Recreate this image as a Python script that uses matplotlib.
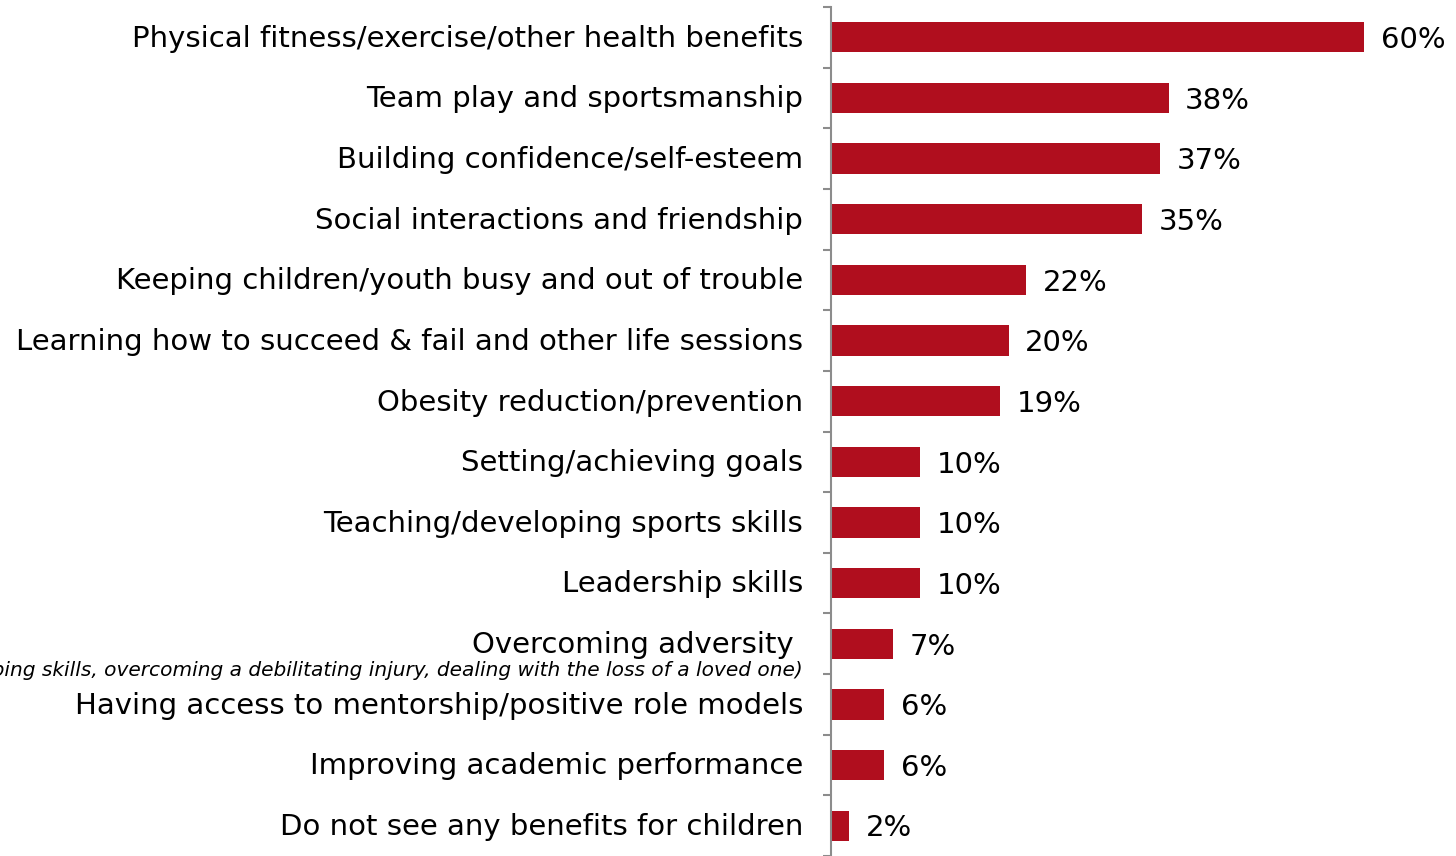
import numpy as np
import matplotlib.pyplot as plt

plt.rcParams['font.family'] = ['DejaVu Sans']

categories = [
    "Physical fitness/exercise/other health benefits",
    "Team play and sportsmanship",
    "Building confidence/self-esteem",
    "Social interactions and friendship",
    "Keeping children/youth busy and out of trouble",
    "Learning how to succeed & fail and other life sessions",
    "Obesity reduction/prevention",
    "Setting/achieving goals",
    "Teaching/developing sports skills",
    "Leadership skills",
    "Overcoming adversity ",
    "Having access to mentorship/positive role models",
    "Improving academic performance",
    "Do not see any benefits for children",
]
values = [60, 38, 37, 35, 22, 20, 19, 10, 10, 10, 7, 6, 6, 2]
note = "(e.g., developing coping skills, overcoming a debilitating injury, dealing with the loss of a loved one)"

bar_color = '#B00E1E'
grey = '#8C8C8C'

fig = plt.figure(figsize=(14.56, 8.56), dpi=100)
ax = fig.add_axes([831/1456, 0.0, (1364-831)/1456, 1 - 7/856])

y = np.arange(len(categories))
ax.barh(y, values, height=0.5, color=bar_color)
ax.set_xlim(0, 60)
ax.set_ylim(len(categories) - 0.5, -0.5)

for i, (cat, v) in enumerate(zip(categories, values)):
    ax.annotate(f"{v}%", xy=(v, i), xytext=(12, -2), textcoords='offset points',
                ha='left', va='center', fontsize=21, color='black', annotation_clip=False)
    ax.annotate(cat, xy=(0, i), xytext=(-20, -1), textcoords='offset points',
                ha='right', va='center', fontsize=21, color='black', annotation_clip=False)

# small italic note under "Overcoming adversity"
ax.annotate(note, xy=(0, 10), xytext=(-20, -19.5), textcoords='offset points',
            ha='right', va='center', fontsize=14.5, style='italic', color='black',
            annotation_clip=False)

ax.set_yticks(np.arange(-0.5, len(categories), 1.0))
ax.set_yticklabels([])
ax.tick_params(axis='y', direction='out', length=6, width=1.5, color=grey)
ax.set_xticks([])
for s in ['top', 'right', 'bottom']:
    ax.spines[s].set_visible(False)
ax.spines['left'].set_color(grey)
ax.spines['left'].set_linewidth(1.5)

fig.savefig('out.png', dpi=100)
